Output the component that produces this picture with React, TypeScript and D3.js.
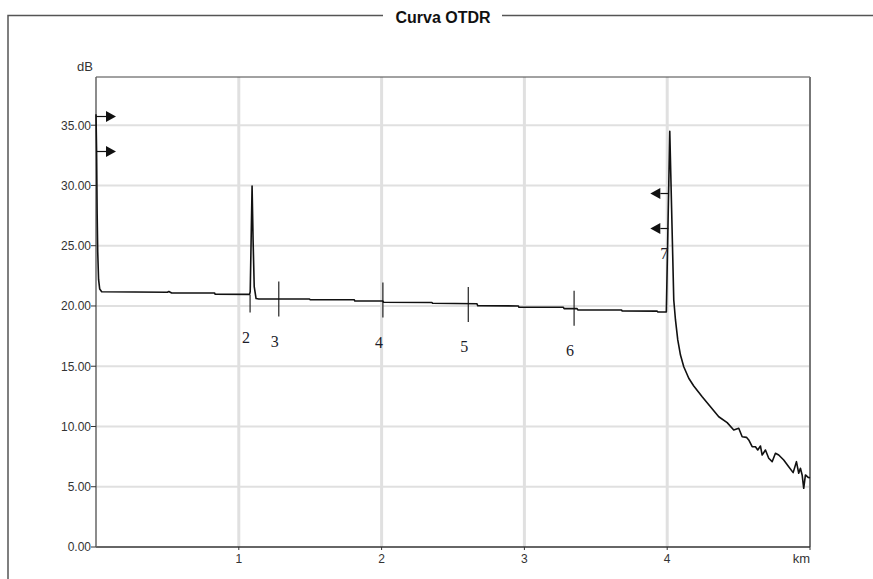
import React from 'react';
import * as d3 from 'd3';

const xTicks = [1, 2, 3, 4];
const yTicks = [0, 5, 10, 15, 20, 25, 30, 35];

const traceKm = [
  0, 0.004, 0.008, 0.012, 0.018, 0.026, 0.04, 0.5, 0.51, 0.52, 0.53, 0.83, 0.835, 1.076, 1.08, 1.093, 1.1, 1.108, 1.121, 1.14,
  1.495, 1.5, 1.808, 1.813, 2.009, 2.014, 2.352, 2.357, 2.668, 2.673, 2.957, 2.962, 3.273, 3.278, 3.369, 3.374,
  3.68, 3.685, 3.93, 3.935, 3.994, 4.018, 4.046, 4.058, 4.074, 4.093, 4.116, 4.151, 4.186, 4.245, 4.303, 4.361,
  4.42, 4.466, 4.501, 4.525, 4.555, 4.571, 4.595, 4.618, 4.634, 4.653, 4.665, 4.688, 4.711, 4.735, 4.758, 4.781,
  4.816, 4.851, 4.882, 4.905, 4.921, 4.933, 4.945, 4.956, 4.968, 4.987, 5.0,
];
const traceDb = [
  35.9, 33.0, 27.7, 24.5, 22.2, 21.4, 21.18, 21.14, 21.2, 21.14, 21.08, 21.08, 20.97, 20.96, 21.2, 29.96, 25.5, 21.6, 20.62, 20.58,
  20.58, 20.52, 20.52, 20.41, 20.41, 20.31, 20.29, 20.22, 20.19, 20.02, 20.0, 19.89, 19.89, 19.78, 19.78, 19.68,
  19.66, 19.58, 19.57, 19.5, 19.5, 34.5, 20.5, 18.84, 17.18, 15.93, 14.96, 14.0, 13.36, 12.47, 11.64, 10.81,
  10.32, 9.71, 9.85, 9.15, 9.1, 8.88, 8.32, 8.32, 8.05, 8.38, 7.63, 8.05, 7.36, 7.08, 7.78, 7.63,
  7.22, 6.66, 6.17, 7.08, 6.12, 6.53, 5.98, 4.87, 5.98, 5.78, 5.75,
];

const eventKm = [1.079, 1.28, 2.009, 2.607, 3.348];
const eventDb = [20.91, 20.58, 20.5, 20.12, 19.81];
const eventLabels = ['2', '3', '4', '5', '6'];

const startEventKm = 0;
const startEventDb = 34.27;
const endEventKm = 4.008;
const endEventDb = 27.88;
const endEventLabel = '7';

const W = 873;
const H = 579;
const L = 96, R = 810, T = 77, B = 547;

export default function App() {
  const x = d3.scaleLinear().domain([0, 5]).range([L, R]);
  const y = d3.scaleLinear().domain([0, 39]).range([B, T]);
  const pts = traceKm.map((k, i) => [k, traceDb[i]] as [number, number]);
  const line = d3.line<[number, number]>().x(d => x(d[0])).y(d => y(d[1]));
  const half = 17.5;
  const sans = 'Arial, "Liberation Sans", sans-serif';
  const serif = '"Liberation Serif", "Times New Roman", serif';

  const sx = x(startEventKm);
  const sy = y(startEventDb);
  const ex = x(endEventKm);
  const ey = y(endEventDb);

  return (
    <svg width={W} height={H} style={{ position: 'absolute', left: 0, top: 0, background: '#fff' }}>
      {/* outer frame */}
      <path d={`M8 ${H} V15.5 H383 M502 15.5 H${W}`} fill="none" stroke="#555" strokeWidth={1.5} />
      <text x={443} y={23} textAnchor="middle" fontFamily={sans} fontSize={16} fontWeight="bold" fill="#111">Curva OTDR</text>

      {/* grid */}
      {yTicks.filter(t => t > 0).map(t => (
        <line key={'gy' + t} x1={L} x2={R} y1={y(t)} y2={y(t)} stroke="#e0e0e0" strokeWidth={2} />
      ))}
      {xTicks.map(t => (
        <line key={'gx' + t} x1={x(t)} x2={x(t)} y1={T} y2={B} stroke="#e0e0e0" strokeWidth={3} />
      ))}

      {/* plot borders */}
      <line x1={L} x2={R} y1={T} y2={T} stroke="#444" strokeWidth={1} />
      <line x1={R} x2={R} y1={T} y2={B} stroke="#777" strokeWidth={2} />
      <line x1={L} x2={R} y1={B} y2={B} stroke="#333" strokeWidth={1.5} />
      <line x1={L} x2={L} y1={T} y2={B} stroke="#666" strokeWidth={1.5} />

      {/* y ticks */}
      {yTicks.map(t => (
        <g key={'yt' + t}>
          <line x1={L - 5} x2={L} y1={y(t)} y2={y(t)} stroke="#333" strokeWidth={1} />
          <text x={L - 5} y={y(t)} dy="0.36em" textAnchor="end" fontFamily={sans} fontSize={12} fill="#333">{t.toFixed(2)}</text>
        </g>
      ))}
      <text x={93} y={71} textAnchor="end" fontFamily={sans} fontSize={13} fill="#333">dB</text>

      {/* x ticks */}
      {xTicks.map(t => (
        <g key={'xt' + t}>
          <line x1={x(t)} x2={x(t)} y1={B} y2={B + 3} stroke="#333" strokeWidth={1} />
          <text x={x(t)} y={563} textAnchor="middle" fontFamily={sans} fontSize={12} fill="#333">{t}</text>
        </g>
      ))}
      <line x1={R} x2={R} y1={B} y2={B + 3} stroke="#333" strokeWidth={1} />
      <text x={R} y={563} textAnchor="end" fontFamily={sans} fontSize={13} fill="#333">km</text>

      {/* event markers */}
      {eventKm.map((k, i) => (
        <g key={'ev' + i}>
          <line x1={x(k)} x2={x(k)} y1={y(eventDb[i]) - (i === 0 ? 0 : half)} y2={y(eventDb[i]) + half} stroke="#222" strokeWidth={1.2} />
          <text x={x(k) - 4} y={y(eventDb[i]) + 42} dy="0.35em" textAnchor="middle" fontFamily={serif} fontSize={16} fill="#1c1c2a">{eventLabels[i]}</text>
        </g>
      ))}

      {/* trace */}
      <path d={line(pts) || ''} fill="none" stroke="#111" strokeWidth={1.6} strokeLinejoin="round" />

      {/* start arrows */}
      {[sy - half, sy + half].map((yy, i) => (
        <g key={'sa' + i}>
          <line x1={sx} x2={sx + 10} y1={yy} y2={yy} stroke="#111" strokeWidth={1.2} />
          <path d={`M${sx + 10} ${yy - 5.5} L${sx + 20} ${yy} L${sx + 10} ${yy + 5.5} Z`} fill="#111" />
        </g>
      ))}

      {/* end arrows */}
      {[ey - half, ey + half].map((yy, i) => (
        <g key={'ea' + i}>
          <line x1={ex} x2={ex - 8} y1={yy} y2={yy} stroke="#111" strokeWidth={1.2} />
          <path d={`M${ex - 8} ${yy - 5.5} L${ex - 18} ${yy} L${ex - 8} ${yy + 5.5} Z`} fill="#111" />
        </g>
      ))}
      <text x={ex - 4} y={ey + 42} dy="0.35em" textAnchor="middle" fontFamily={serif} fontSize={16} fill="#1c1c2a">{endEventLabel}</text>
    </svg>
  );
}
